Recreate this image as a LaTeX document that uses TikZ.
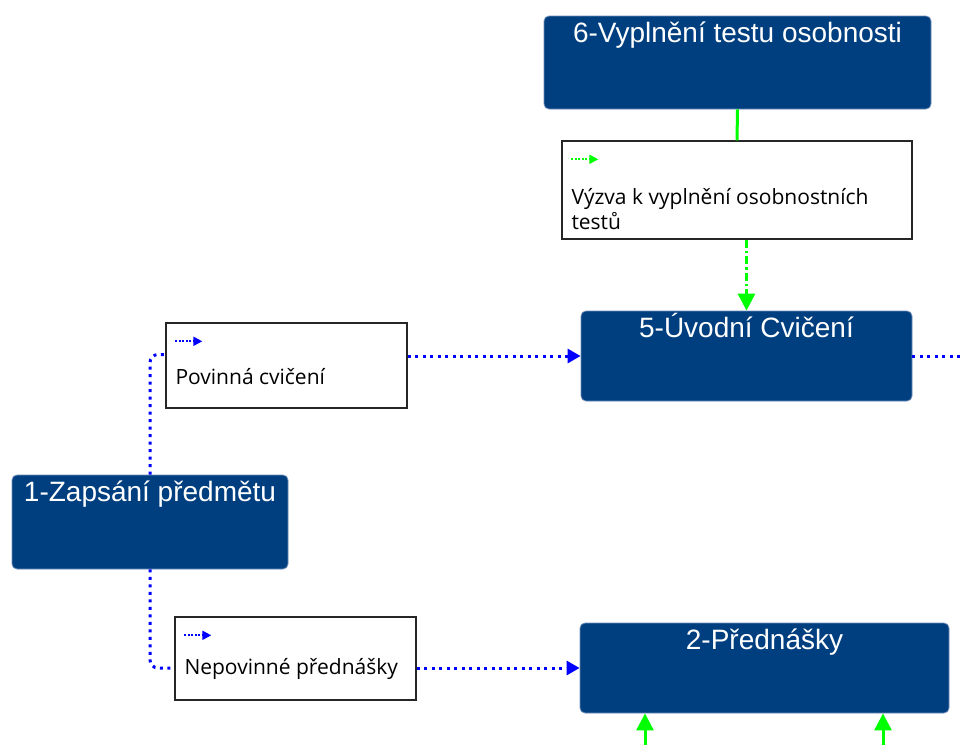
\documentclass[tikz,border=0pt]{standalone}
\usepackage{fontspec}
\setmainfont{Liberation Sans}
\newfontfamily\notefont{Open Sans}
\usetikzlibrary{arrows.meta}
\definecolor{stagefill}{RGB}{0,63,127}
\definecolor{stageedge}{RGB}{110,140,185}
\definecolor{flowblue}{RGB}{0,0,255}
\definecolor{flowgreen}{RGB}{0,255,0}
\begin{document}
\begin{tikzpicture}[x=1pt,y=-1pt,
  stage/.style={draw=stageedge, line width=0.8pt, fill=stagefill, rounded corners=5pt, inner sep=0pt},
  stagetitle/.style={anchor=base, text=white, font=\fontsize{28}{32}\selectfont, inner sep=0pt},
  note/.style={draw=black!85, line width=1.4pt, fill=white, inner sep=0pt},
  notetext/.style={anchor=base west, inner sep=0pt, text=black, font=\notefont\fontsize{21}{25}\selectfont, align=left},
  bluedot/.style={draw=flowblue, line width=3pt, dash pattern=on 3pt off 4.5pt},
  greenline/.style={draw=flowgreen, line width=3pt},
  greendashdot/.style={draw=flowgreen, line width=3pt, dash pattern=on 8pt off 3pt on 2.5pt off 3pt},
  bluetip/.style={-{Triangle[length=13pt,width=14pt]}},
  greentip/.style={-{Triangle[length=17pt,width=17pt]}},
  iconblue/.style={draw=flowblue, line width=2pt, dash pattern=on 2pt off 1.5pt, -{Triangle[length=9pt,width=9pt]}},
  icongreen/.style={draw=flowgreen, line width=2pt, dash pattern=on 2pt off 1.5pt, -{Triangle[length=9pt,width=9pt]}}
]
\useasboundingbox (0,0) rectangle (963,745);

% process stages
\node[stage, minimum width=387pt, minimum height=93pt] (b6) at (737.5,62.5) {};
\node[stage, minimum width=331pt, minimum height=90pt] (b5) at (746.5,356) {};
\node[stage, minimum width=276pt, minimum height=94pt] (b1) at (150,522) {};
\node[stage, minimum width=369pt, minimum height=90pt] (b2) at (764.5,668) {};

\node[stagetitle] (t6) at ([yshift=-27pt]b6.north) {6-Vyplnění testu osobnosti};
\node[stagetitle] (t5) at ([yshift=-27pt]b5.north) {5-Úvodní Cvičení};
\node[stagetitle] (t1) at ([yshift=-27pt]b1.north) {1-Zapsání předmětu};
\node[stagetitle] (t2) at ([yshift=-27pt]b2.north) {2-Přednášky};

% transition notes
\node[note, minimum width=350pt, minimum height=98pt] (lv) at (737,190) {};
\node[note, minimum width=241pt, minimum height=85pt] (lp) at (286.5,365.5) {};
\node[note, minimum width=241pt, minimum height=83pt] (ln) at (295.5,658.5) {};

% the base of a two-line note is its last line
\node[notetext] (xv) at ([shift={(10pt,-89pt)}]lv.north west) {Výzva k vyplnění osobnostních\\testů};
\node[notetext] (xp) at ([shift={(10pt,-62pt)}]lp.north west) {Povinná cvičení};
\node[notetext] (xn) at ([shift={(10pt,-58pt)}]ln.north west) {Nepovinné přednášky};

\draw[icongreen] ([shift={(10pt,-19pt)}]lv.north west) -- ++(27pt,0);
\draw[iconblue] ([shift={(10pt,-19pt)}]lp.north west) -- ++(27pt,0);
\draw[iconblue] ([shift={(10pt,-19pt)}]ln.north west) -- ++(27pt,0);

% connectors
\coordinate (rightend) at (963,356);
\coordinate (g1) at (645,745);
\coordinate (g2) at (883,745);

\draw[greenline] (b6.south) -- (lv.north);
\draw[greendashdot, greentip] (lv.south -| b5.north) -- (b5.north);

\draw[bluedot, rounded corners=8pt] (b1.north) |- ([yshift=11pt]lp.west);
\draw[bluedot, bluetip] (lp.east |- b5.west) -- (b5.west);
\draw[bluedot] (b5.east) -- (rightend);

\draw[bluedot, rounded corners=8pt] (b1.south) |- (ln.west |- b2.west);
\draw[bluedot, bluetip] (ln.east |- b2.west) -- (b2.west);

\draw[greenline, greentip] (g1) -- (g1 |- b2.south);
\draw[greenline, greentip] (g2) -- (g2 |- b2.south);
\end{tikzpicture}
\end{document}
